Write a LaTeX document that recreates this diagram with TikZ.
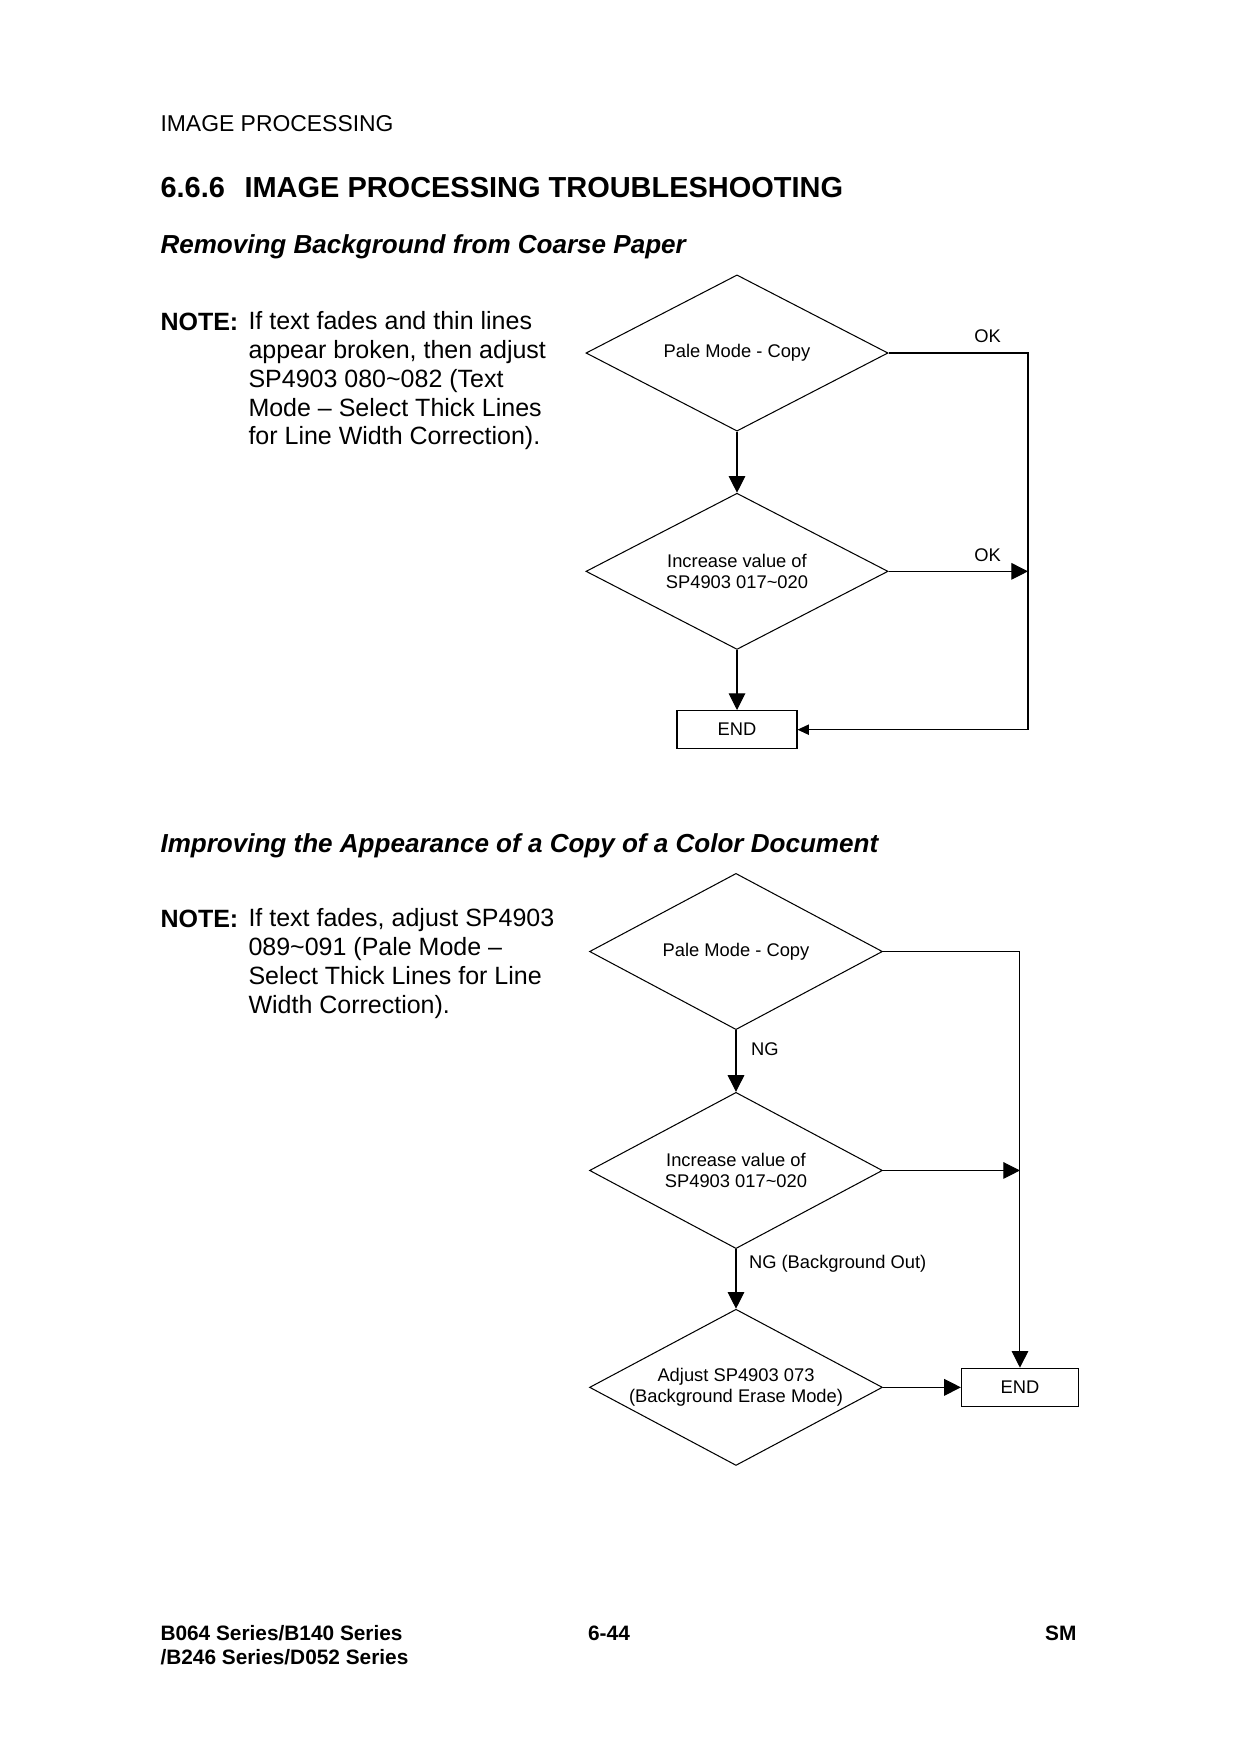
\documentclass[tikz,border=0pt]{standalone}
\usepackage{fontspec}
\setmainfont{Liberation Sans}
\usetikzlibrary{arrows.meta, positioning, shapes.geometric}

\newcommand{\chartfont}{\fontsize{8.8}{10.2}\selectfont}
\newcommand{\notefont}{\fontsize{12}{13.8}\selectfont}

\begin{document}
\begin{tikzpicture}[x=0.48pt, y=-0.48pt, line width=0.5pt,
    >={Triangle[length=8pt, width=8pt]},
    decision/.style={draw, diamond, aspect=2, inner sep=0pt, minimum width=145pt,
      minimum height=75pt, align=center, font=\chartfont},
    endbox/.style={draw, rectangle, minimum width=57.6pt, minimum height=18.4pt,
      inner sep=0pt, font=\chartfont},
    lbl/.style={font=\chartfont, inner sep=0pt},
    smalltip/.style={-{Triangle[length=5.5pt, width=5pt]}},
    pagetext/.style={anchor=base west, inner sep=0pt, align=left}]
  \useasboundingbox (0,0) rectangle (1240,1754);

  % Headings
  \node[pagetext, font=\fontsize{11}{13}\selectfont] (header) at (160,131) {IMAGE PROCESSING};
  \node[pagetext, font=\fontsize{13.9}{16}\selectfont\bfseries] (title) at (160,197)
    {6.6.6\hspace{0.4em} IMAGE PROCESSING TROUBLESHOOTING};
  \node[pagetext, font=\fontsize{12.5}{14}\selectfont\bfseries\itshape] (subA) at (160,253)
    {Removing Background from Coarse Paper};

  % First note (base = last line)
  \node[pagetext, font=\notefont\bfseries] (noteA) at (160,330) {NOTE:};
  \node[pagetext, font=\notefont] (noteAtext) at (248,444.8)
    {If text fades and thin lines\\ appear broken, then adjust\\ SP4903 080\textasciitilde082 (Text\\
     Mode -- Select Thick Lines\\ for Line Width Correction).};

  % First chart
  \node[decision] (paleA) at (737,353) {Pale Mode - Copy};
  \node[decision, below=29.3pt of paleA] (incA) {Increase value of\\ SP4903 017\textasciitilde020};
  \node[endbox, below=28.8pt of incA] (endA) {END};
  \coordinate (railA) at (1028,353);

  \draw[->] (paleA) -- (incA);
  \draw[->] (incA) -- (endA);
  \draw[smalltip] (paleA.east) -- node[lbl, pos=0.71, above=4.6pt] {OK} (paleA.east -| railA)
    |- (endA.east);
  \draw[->] (incA.east) -- node[lbl, pos=0.71, above=4.6pt] {OK} (incA.east -| railA);

  % Second heading and note
  \node[pagetext, font=\fontsize{12.5}{14}\selectfont\bfseries\itshape] (subB) at (160,852)
    {Improving the Appearance of a Copy of a Color Document};
  \node[pagetext, font=\notefont\bfseries] (noteB) at (160,927) {NOTE:};
  \node[pagetext, font=\notefont] (noteBtext) at (248,1013.1)
    {If text fades, adjust SP4903\\ 089\textasciitilde091 (Pale Mode --\\ Select Thick Lines for Line\\
     Width Correction).};

  % Second chart
  \node[decision, minimum width=140.6pt] (paleB) at (736,951.5) {Pale Mode - Copy};
  \node[decision, minimum width=140.6pt, below=29.6pt of paleB] (incB)
    {Increase value of\\ SP4903 017\textasciitilde020};
  \node[decision, minimum width=140.6pt, below=28.6pt of incB] (adjB)
    {Adjust SP4903 073\\ (Background Erase Mode)};
  \node[endbox, minimum width=56.2pt, right=37.4pt of adjB] (endB) {END};

  \draw[->] (paleB) -- node[lbl, pos=0.31, right=7pt] {NG} (incB);
  \draw[->] (incB) -- node[lbl, pos=0.24, right=6pt] {NG (Background Out)} (adjB);
  \draw[->] (paleB.east) -| (endB.north);
  \draw[->] (incB.east) -- (incB.east -| endB.north);
  \draw[->] (adjB) -- (endB);

  % Footer
  \node[pagetext, font=\fontsize{10}{11.4}\selectfont\bfseries] (footL) at (160,1664)
    {B064 Series/B140 Series\\ /B246 Series/D052 Series};
  \node[anchor=base, inner sep=0pt, font=\fontsize{10}{12}\selectfont\bfseries] (footC) at (609,1640) {6-44};
  \node[anchor=base east, inner sep=0pt, font=\fontsize{10}{12}\selectfont\bfseries] (footR) at (1077,1640) {SM};
\end{tikzpicture}
\end{document}
